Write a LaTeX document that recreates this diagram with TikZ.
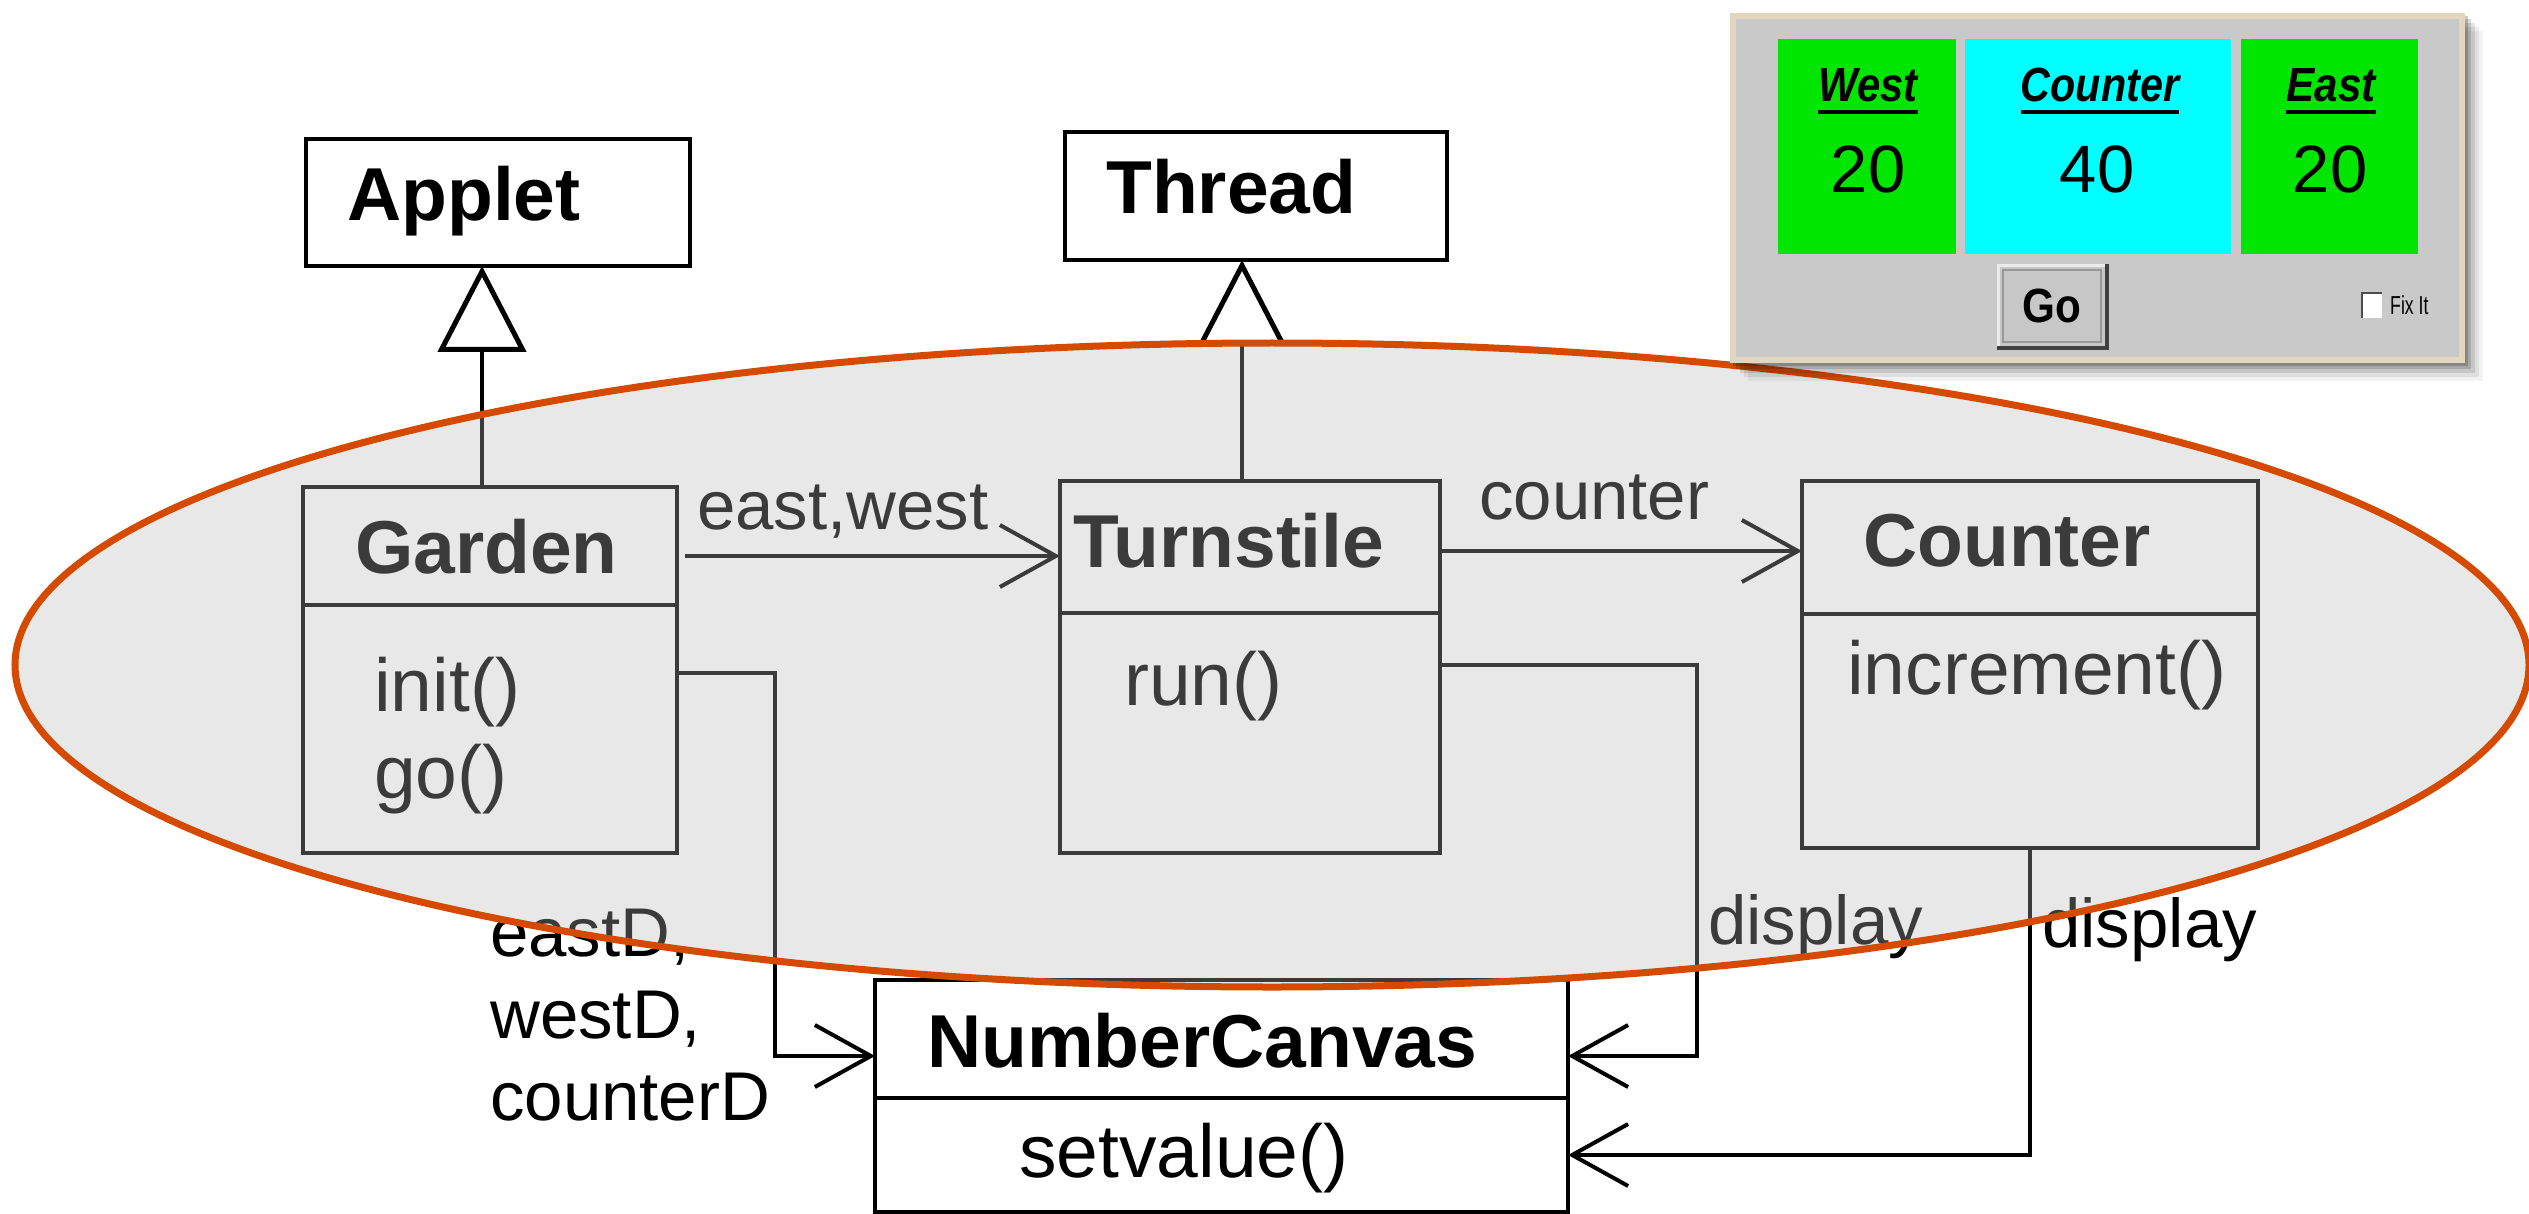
\documentclass[tikz,border=0pt]{standalone}
\usepackage{fontspec}
\setmainfont{Liberation Sans}
\usepackage{graphicx}
\usetikzlibrary{arrows.meta}

\definecolor{ringorange}{HTML}{D64A00}
\definecolor{panelgray}{HTML}{C9C9C9}
\definecolor{panelframe}{HTML}{E2D7BE}
\definecolor{lcdgreen}{HTML}{00E600}
\definecolor{lcdcyan}{HTML}{00FFFF}

\tikzset{
  box/.style={draw=black, line width=4pt, fill=white, inner sep=0pt, outer sep=0pt},
  title/.style={font=\fontsize{75}{90}\selectfont\bfseries, anchor=base west, inner sep=0pt},
  meth/.style={font=\fontsize{75}{90}\selectfont, anchor=base west, inner sep=0pt},
  lbl/.style={font=\fontsize{69}{82}\selectfont, anchor=base west, inner sep=0pt},
  assoc/.style={draw=black, line width=4pt,
    -{Straight Barb[length=56pt, width=62pt, line width=4pt]}},
  gen/.style={draw=black, line width=4pt,
    -{Triangle[open, length=86pt, width=88pt, line width=5pt, fill=white]}},
  paneltitle/.style={font=\fontsize{48}{56}\selectfont\bfseries\itshape, anchor=base, inner sep=0pt},
  panelnum/.style={font=\fontsize{67}{78}\selectfont, anchor=base, inner sep=0pt},
}

\begin{document}
\begin{tikzpicture}[x=1pt, y=-1pt]
\useasboundingbox (0,0) rectangle (2529,1214);
\clip (0,0) rectangle (2529,1214);
\fill[white] (0,0) rectangle (2529,1214);

% superclasses
\node[box, line width=4.5pt, minimum width=384pt, minimum height=127pt] (Applet) at (498,202.5) {};
\node[title] (AppletT) at (347,221) {Applet};
\node[box, line width=4.5pt, minimum width=382pt, minimum height=128pt] (Thread) at (1256,196) {};
\node[title] (ThreadT) at (1106,214) {Thread};

% Garden
\node[box, minimum width=374pt, minimum height=118pt] (Gh) at (490,546) {};
\node[box, minimum width=374pt, minimum height=248pt] (Gb) at (490,729) {};
\node[title] (GardenT) at (355,573) {Garden};
\node[meth] (GInit) at (374,711) {init()};
\node[meth] (GGo) at (374,798) {go()};

% Turnstile
\node[box, minimum width=380pt, minimum height=132pt] (Th) at (1250,547) {};
\node[box, minimum width=380pt, minimum height=240pt] (Tb) at (1250,733) {};
\node[title] (TurnT) at (1073,567) {Turnstile};
\node[meth] (TRun) at (1124,705) {run()};

% Counter
\node[box, minimum width=456pt, minimum height=133pt] (Ch) at (2030,547.5) {};
\node[box, minimum width=456pt, minimum height=234pt] (Cb) at (2030,731) {};
\node[title] (CountT) at (1863,566) {Counter};
\node[meth] (CInc) at (1847,694) {increment()};

% NumberCanvas
\node[box, minimum width=693pt, minimum height=118pt] (Nh) at (1221.5,1039) {};
\node[box, minimum width=693pt, minimum height=114pt] (Nb) at (1221.5,1155) {};
\node[title] (NumT) at (927,1067) {NumberCanvas};
\node[meth] (NSet) at (1019,1177) {setvalue()};

% inheritance
\draw[gen] ([xshift=-8pt]Gh.north) -- ([xshift=-8pt]Gh.north |- Applet.south);
\draw[gen] ([xshift=-8pt]Th.north) -- ([xshift=-8pt]Th.north |- Thread.south);

% associations
\draw[assoc] ([xshift=8pt, yshift=-10pt]Gh.east) -- ([yshift=-10pt]Gh.east -| Th.west);
\node[lbl] (ewL) at (697,529) {east,west};
\draw[assoc] ([yshift=-4pt]Th.east) -- ([yshift=-4pt]Th.east -| Ch.west);
\node[lbl] (cL) at (1479,519) {counter};

\draw[assoc] ([yshift=56pt]Gb.east) -- ++(98,0) |- ([yshift=-17pt]Nh.west);
\node[lbl, anchor=north west, align=left] (gL) at (490,909) {eastD,\\westD,\\counterD};
\draw[assoc] ([yshift=68pt]Tb.east) -- ++(257,0) |- ([yshift=-17pt]Nh.east);
\node[lbl] (tdL) at (1708,944) {display};
\draw[assoc] (Cb.south) |- (Nb.east);
\node[lbl] (cdL) at (2042,947) {display};

% highlighted group
\fill[black!27, fill opacity=0.32] (1272,665) ellipse [x radius=1257pt, y radius=322pt];
\draw[ringorange, line width=7pt] (1272,665) ellipse [x radius=1257pt, y radius=322pt];

% applet window
\foreach \o/\a in {18/0.05, 14/0.08, 10/0.11, 6/0.15, 3/0.2}
  \fill[black, opacity=\a] (1730+\o,13+\o) rectangle (2465+\o,363+\o);
\fill[panelframe] (1730,13) rectangle (2465,363);
\fill[panelgray] (1736,19) rectangle (2459,357);

\fill[lcdgreen] (1778,39) rectangle (1956,254);
\fill[lcdcyan] (1965,39) rectangle (2231,254);
\fill[lcdgreen] (2241,39) rectangle (2418,254);

\node[paneltitle] (wT) at (1868,102) {\scalebox{0.87}[1]{West}};
\node[paneltitle] (cT) at (2100,102) {\scalebox{0.86}[1]{Counter}};
\node[paneltitle] (eT) at (2331,102) {\scalebox{0.88}[1]{East}};
\foreach \t in {wT,cT,eT}
  \draw[line width=3.5pt] ([yshift=-10pt]\t.base west) -- ([yshift=-10pt]\t.base east);

\node[panelnum] (wN) at (1868,193) {20};
\node[panelnum] (cN) at (2097,193) {40};
\node[panelnum] (eN) at (2330,193) {20};

% Go button
\fill[black!75] (1997,264) rectangle (2109,350);
\fill[white!92!black] (1997,264) rectangle (2105,346);
\fill[black!22] (2000,267) rectangle (2105,346);
\draw[black!40, line width=1.5pt] (2003,270) rectangle (2101,342);
\node[font=\fontsize{48}{56}\selectfont\bfseries, inner sep=0pt] (goT) at (2052,306) {\scalebox{0.88}[1]{Go}};

% Fix It checkbox
\fill[white] (2362,293) rectangle (2382,318);
\draw[black!70, line width=2.5pt] (2362,318) -- (2362,293) -- (2382,293);
\node[font=\fontsize{26}{30}\selectfont, anchor=west, inner sep=0pt] (fixT) at (2390,305) {\scalebox{0.68}[1]{Fix It}};
\end{tikzpicture}
\end{document}
